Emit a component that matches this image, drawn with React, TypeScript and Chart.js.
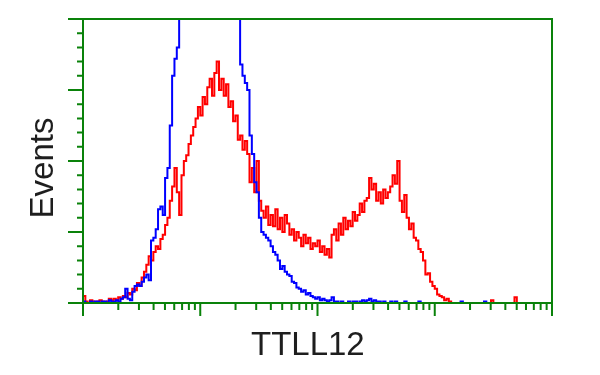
import React, { useEffect, useRef } from "react";
import { Chart, registerables } from "chart.js";

Chart.register(...registerables);

// Histogram channels: each channel spans 0.02 decade on the log x axis (1 .. 10^4)
const CHANNEL_DECADES = 0.02;

const blueCounts = [
  2, 1, 0, 0, 1, 0, 1, 1, 0, 1,
  1, 0, 2, 1, 1, 2, 1, 3, 4, 10,
  3, 2, 8, 12, 13, 12, 15, 18, 20, 16,
  44, 46, 52, 66, 68, 62, 88, 95, 125, 160,
  172, 180, 215, 235, 255, 270, 285, 295, 300, 305,
  310, 312, 315, 315, 312, 310, 305, 300, 295, 288,
  280, 270, 260, 248, 235, 222, 215, 210, 168, 160,
  155, 150, 118, 105, 85, 78, 60, 50, 48, 46,
  44, 40, 36, 34, 30, 24, 26, 22, 20, 19,
  15, 14, 11, 10, 8, 9, 6, 7, 5, 4,
  3, 4, 2, 3, 2, 1, 2, 4, 1, 1,
  0, 1, 0, 0, 1, 0, 1, 1, 0, 1,
  2, 1, 2, 3, 1, 2, 1, 1, 0, 1,
  0, 0, 1, 0, 1, 0, 0, 0, 1, 0,
  0, 0, 0, 0, 1, 0, 0, 0, 0, 0,
  0, 0, 0, 0, 0, 0, 0, 0, 0, 0,
  0, 0, 1, 0, 0, 0, 0, 0, 0, 0,
  0, 0, 1, 0, 0, 0, 0, 0, 0, 0,
  0, 0, 0, 0, 0, 0, 0, 0, 0, 0,
  0, 0, 0, 0, 0, 0, 0, 0, 0, 0,
];

const redCounts = [
  7, 5, 1, 0, 2, 1, 0, 1, 2, 1,
  0, 1, 3, 2, 3, 2, 4, 3, 5, 4,
  7, 6, 10, 9, 14, 12, 18, 22, 27, 33,
  30, 36, 40, 38, 45, 48, 55, 60, 72, 82,
  95, 78, 62, 90, 100, 104, 112, 118, 124, 130,
  138, 132, 145, 140, 152, 158, 146, 162, 170, 150,
  158, 146, 154, 138, 142, 128, 132, 115, 118, 108,
  114, 105, 85, 95, 78, 100, 72, 65, 60, 68,
  55, 62, 54, 66, 52, 60, 50, 62, 56, 48,
  52, 44, 50, 46, 40, 48, 42, 46, 38, 42,
  40, 44, 36, 40, 34, 38, 32, 48, 52, 44,
  56, 48, 60, 52, 58, 54, 64, 58, 62, 70,
  64, 72, 74, 88, 80, 84, 72, 78, 70, 80,
  74, 78, 82, 90, 84, 100, 72, 64, 76, 60,
  52, 56, 46, 44, 38, 36, 30, 20, 21, 15,
  12, 10, 6, 5, 4, 2, 3, 1, 0, 0,
  0, 0, 0, 0, 0, 0, 0, 0, 0, 0,
  0, 0, 0, 0, 0, 2, 0, 0, 0, 0,
  0, 0, 0, 0, 0, 4, 0, 0, 0, 0,
  0, 0, 0, 0, 0, 0, 0, 0, 0, 0,
];

const xMin = 1;
const xMax = 10000;
const yMax = 200;
const yMajorStep = 50;
const yMinorStep = 10;
const xDecades = [1, 10, 100, 1000, 10000];
const xMinorMultipliers = [2, 3, 4, 5, 6, 7, 8, 9];

const xTitle = "TTLL12";
const yTitle = "Events";

const GREEN = "#0a820a";
const BLUE = "#0000ff";
const RED = "#ff0000";
const TEXT = "#1e1e1e";
const FONT = '33px "Liberation Sans", Arial, sans-serif';

function toPoints(counts: number[]) {
  const pts = counts.map((v, i) => ({ x: Math.pow(10, i * CHANNEL_DECADES), y: v }));
  pts.push({ x: Math.pow(10, counts.length * CHANNEL_DECADES), y: 0 });
  return pts;
}

const frameAndTicks = {
  id: "frameAndTicks",
  afterDatasetsDraw(chart: any) {
    const { ctx, chartArea, scales } = chart;
    const { left, right, top, bottom } = chartArea;
    const xs = scales.x;
    const ys = scales.y;
    ctx.save();
    ctx.strokeStyle = GREEN;
    ctx.lineWidth = 2;
    ctx.strokeRect(left, top, right - left, bottom - top);
    ctx.beginPath();
    xDecades.forEach((d, di) => {
      const px = xs.getPixelForValue(d);
      ctx.moveTo(px, bottom);
      ctx.lineTo(px, bottom + 13);
      if (di < xDecades.length - 1) {
        xMinorMultipliers.forEach((m) => {
          const p = xs.getPixelForValue(d * m);
          ctx.moveTo(p, bottom);
          ctx.lineTo(p, bottom + 7);
        });
      }
    });
    for (let v = 0; v <= yMax; v += yMinorStep) {
      const py = ys.getPixelForValue(v);
      const len = v % yMajorStep === 0 ? 15 : 6;
      ctx.moveTo(left, py);
      ctx.lineTo(left - len, py);
    }
    ctx.stroke();

    ctx.fillStyle = TEXT;
    ctx.font = FONT;
    ctx.textAlign = "left";
    ctx.textBaseline = "alphabetic";
    ctx.fillText(xTitle, 251, 355);
    ctx.translate(53, 168);
    ctx.rotate(-Math.PI / 2);
    ctx.textAlign = "center";
    ctx.fillText(yTitle, 0, 0);
    ctx.restore();
  },
};

export default function App() {
  const canvasRef = useRef<HTMLCanvasElement | null>(null);

  useEffect(() => {
    if (!canvasRef.current) return;
    const chart = new Chart(canvasRef.current, {
      type: "line",
      data: {
        datasets: [
          {
            label: "control",
            data: toPoints(blueCounts),
            borderColor: BLUE,
            borderWidth: 2,
            stepped: "after",
            pointRadius: 0,
            fill: false,
            clip: 0,
          },
          {
            label: "TTLL12",
            data: toPoints(redCounts),
            borderColor: RED,
            borderWidth: 2,
            stepped: "after",
            pointRadius: 0,
            fill: false,
            clip: 0,
          },
        ],
      },
      options: {
        animation: false,
        responsive: false,
        parsing: false,
        layout: { padding: { left: 83, top: 19, right: 48, bottom: 72 } },
        plugins: {
          legend: { display: false },
          tooltip: { enabled: false },
          title: { display: false },
        },
        scales: {
          x: { type: "logarithmic", min: xMin, max: xMax, display: false },
          y: { type: "linear", min: 0, max: yMax, display: false },
        },
      },
      plugins: [frameAndTicks],
    } as any);
    return () => chart.destroy();
  }, []);

  return (
    <div style={{ position: "absolute", left: 0, top: 0, width: 600, height: 375, background: "#fff" }}>
      <canvas ref={canvasRef} width={600} height={375} style={{ display: "block" }} />
    </div>
  );
}
